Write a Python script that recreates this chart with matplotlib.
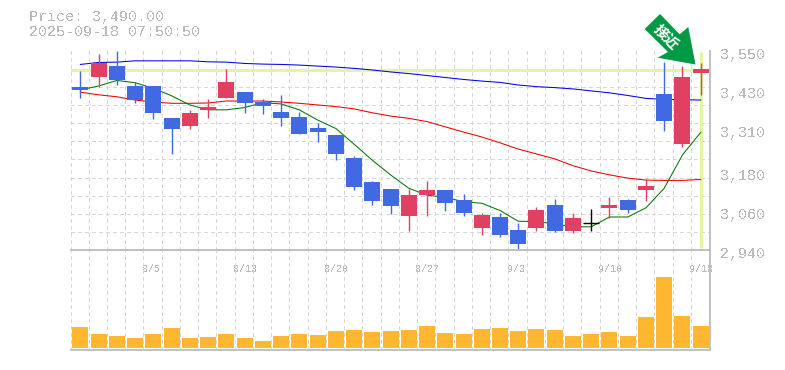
import numpy as np
import matplotlib
matplotlib.use('Agg')
import matplotlib.pyplot as plt
from matplotlib.patches import Polygon
from matplotlib.transforms import ScaledTranslation

W, H = 785, 370

# candles
opens = [3439,3470,3503,3442,3442,3344,3320,3369,3405,3424,3393,3362,3347,3313,3292,3222,3148,3127,3044,3108,3124,3093,3007,3041,3001,3007,3078,2998,3023,3069,3093,3124,3418,3264,3482]
closes = [3430,3512,3460,3399,3359,3310,3359,3378,3454,3390,3381,3344,3295,3301,3234,3133,3090,3075,3108,3124,3084,3053,3047,2986,2958,3062,2998,3038,3023,3078,3062,3136,3335,3470,3494]
highs = [3488,3540,3549,3454,3442,3344,3369,3402,3494,3424,3402,3414,3362,3329,3292,3228,3151,3127,3127,3151,3124,3111,3053,3053,3023,3072,3096,3053,3066,3102,3096,3157,3515,3503,3512]
lows = [3406,3438,3446,3391,3341,3234,3310,3344,3405,3359,3356,3320,3295,3271,3215,3124,3078,3050,2998,3044,3059,3044,2986,2980,2940,2998,2995,2992,2998,3038,3053,3090,3304,3255,3414]

# moving averages
ma_short = [3430,3442,3459,3452,3435,3412,3384,3369,3369,3376,3391,3387,3369,3338,3312,3264,3215,3170,3129,3108,3101,3088,3083,3061,3028,3027,3020,3011,3011,3041,3041,3069,3129,3231,3300]
ma_mid = [3423,3415,3409,3399,3393,3389,3389,3390,3396,3396,3396,3393,3389,3384,3379,3372,3360,3350,3343,3333,3317,3301,3286,3268,3249,3234,3219,3198,3182,3170,3160,3154,3153,3153,3156]
ma_long = [3508,3514,3515,3519,3519,3519,3519,3516,3515,3511,3509,3508,3506,3503,3500,3496,3491,3485,3480,3474,3468,3462,3457,3453,3445,3440,3437,3433,3427,3421,3413,3404,3401,3400,3399]

volumes = [21300,14300,12300,10300,14300,20300,10300,11300,14300,10300,7300,12300,14300,13300,17300,18300,16300,17300,18300,22300,15300,14300,19300,20300,17300,19300,18300,12300,14300,16300,12300,31300,71300,32300,22300]

price_ticks = [3550,3430,3310,3180,3060,2940]
date_labels = ['8/5','8/13','8/20','8/27','9/3','9/10','9/18']
date_idx = [4,9,14,19,24,29,34]
last_price = 3490

RED = '#e04163'
BLUE = '#4169e1'
GRID = '#d8d8d8'
FRAME = '#c0c0c0'
TXT = '#bbbbbb'
YELLOW = '#e3f5a4'

plt.rcParams['text.antialiased'] = False
plt.rcParams['font.family'] = ['Liberation Mono', 'DejaVu Sans']
fig = plt.figure(figsize=(W/100, H/100), dpi=100)

def axes_px(x0, y0, x1, y1):
    return fig.add_axes([x0/W, 1-y1/H, (x1-x0)/W, (y1-y0)/H])

ax = axes_px(70.5, 50.7, 710, 250)
vol = axes_px(70.5, 250, 710, 350)

grid_x = np.arange(-0.54, 34.0, 1)
grid_y = np.linspace(2940, 3550, 12)

for a in (ax, vol):
    a.set_xlim(-0.54, 34.51)
    a.set_xticks(grid_x, minor=True)
    a.grid(True, which='minor', axis='x', color=GRID, lw=0.72, linestyle=(0, (3, 3)), antialiased=False)
    a.tick_params(which='both', length=0)
    a.set_axisbelow(True)
    for s in a.spines.values():
        s.set_visible(False)

# price panel
ax.set_ylim(2940, 3550)
ax.set_yticks(grid_y, minor=True)
ax.grid(True, which='minor', axis='y', color=GRID, lw=0.72, linestyle=(0, (3, 3)), antialiased=False)
ax.set_xticks([])
ax.axhline(last_price, color=YELLOW, lw=2.2, zorder=1)
ax.plot([34, 34], [2945, 3545], color=YELLOW, lw=2.2, zorder=1, solid_capstyle='butt')

idx = np.arange(len(opens))
ax.plot(idx, ma_long, color='#0000ee', lw=0.75, zorder=2)
ax.plot(idx, ma_mid, color='#ee0000', lw=0.75, zorder=2)
ax.plot(idx, ma_short, color='#007700', lw=0.75, zorder=2)

for i in idx:
    o, c = opens[i], closes[i]
    if c > o:
        col = RED
    elif c < o:
        col = BLUE
    else:
        col = 'black'
    ax.vlines(i, lows[i], highs[i], color=col, lw=1.0, zorder=3, snap=True)
    if c == o:
        ax.hlines(o, i-0.44, i+0.44, color=col, lw=1.0, zorder=3, snap=True)
    else:
        ax.bar(i, abs(c-o), bottom=min(o, c), width=0.877, color=col, zorder=4)

ax.set_yticks(price_ticks)
ax.set_yticklabels([f'{v:,}' for v in price_ticks], fontsize=10.8, color=TXT)
ax.yaxis.tick_right()
ax.tick_params(axis='y', which='major', pad=7.2, length=0)
ax.spines['right'].set_visible(True)
ax.spines['right'].set_color(FRAME)
ax.spines['right'].set_linewidth(1.4)
shift = ScaledTranslation(0, -2.5/100, fig.dpi_scale_trans)
for t in ax.get_yticklabels():
    t.set_transform(t.get_transform() + shift)

# volume panel
vol.bar(idx, volumes, width=0.877, color='#ffb732', zorder=3)
vol.set_ylim(-1700, 98300)
vol.set_yticks([])
vol.set_xticks(date_idx)
vol.set_xticklabels(date_labels, fontsize=7.2, color=TXT, ha='left')
vol.xaxis.tick_top()
vol.tick_params(axis='x', which='major', pad=-17, length=0)
shift = ScaledTranslation(-11.4/100, 0, fig.dpi_scale_trans)
for t in vol.get_xticklabels():
    t.set_transform(t.get_transform() + shift)
for s in ('top', 'bottom', 'right'):
    vol.spines[s].set_visible(True)
    vol.spines[s].set_color(FRAME)
    vol.spines[s].set_linewidth(1.4)

# header
fig.text(29/W, 1-17.5/H, 'Price: 3,490.00', fontsize=10.8, color=TXT, va='center')
fig.text(29/W, 1-32.5/H, '2025-09-18 07:50:50', fontsize=10.8, color=TXT, va='center')

# green arrow
arrow_px = [(660, 14), (644.7, 29), (668, 52), (657.7, 57.7), (695.5, 64.5), (688.3, 27), (679.7, 34.3)]
fig.add_artist(Polygon([(x/W, 1-y/H) for x, y in arrow_px], closed=True, transform=fig.transFigure,
                       facecolor='#009944', edgecolor='none', zorder=10))
t = fig.text(666.5/W, 1-36.5/H, '接近', family=['Noto Sans CJK JP', 'DejaVu Sans'], fontsize=10.5, fontweight='bold',
         color='white', rotation=-45, rotation_mode='anchor', ha='center', va='center', zorder=11)
t.set_antialiased(True)

fig.savefig('out.png', dpi=100)
